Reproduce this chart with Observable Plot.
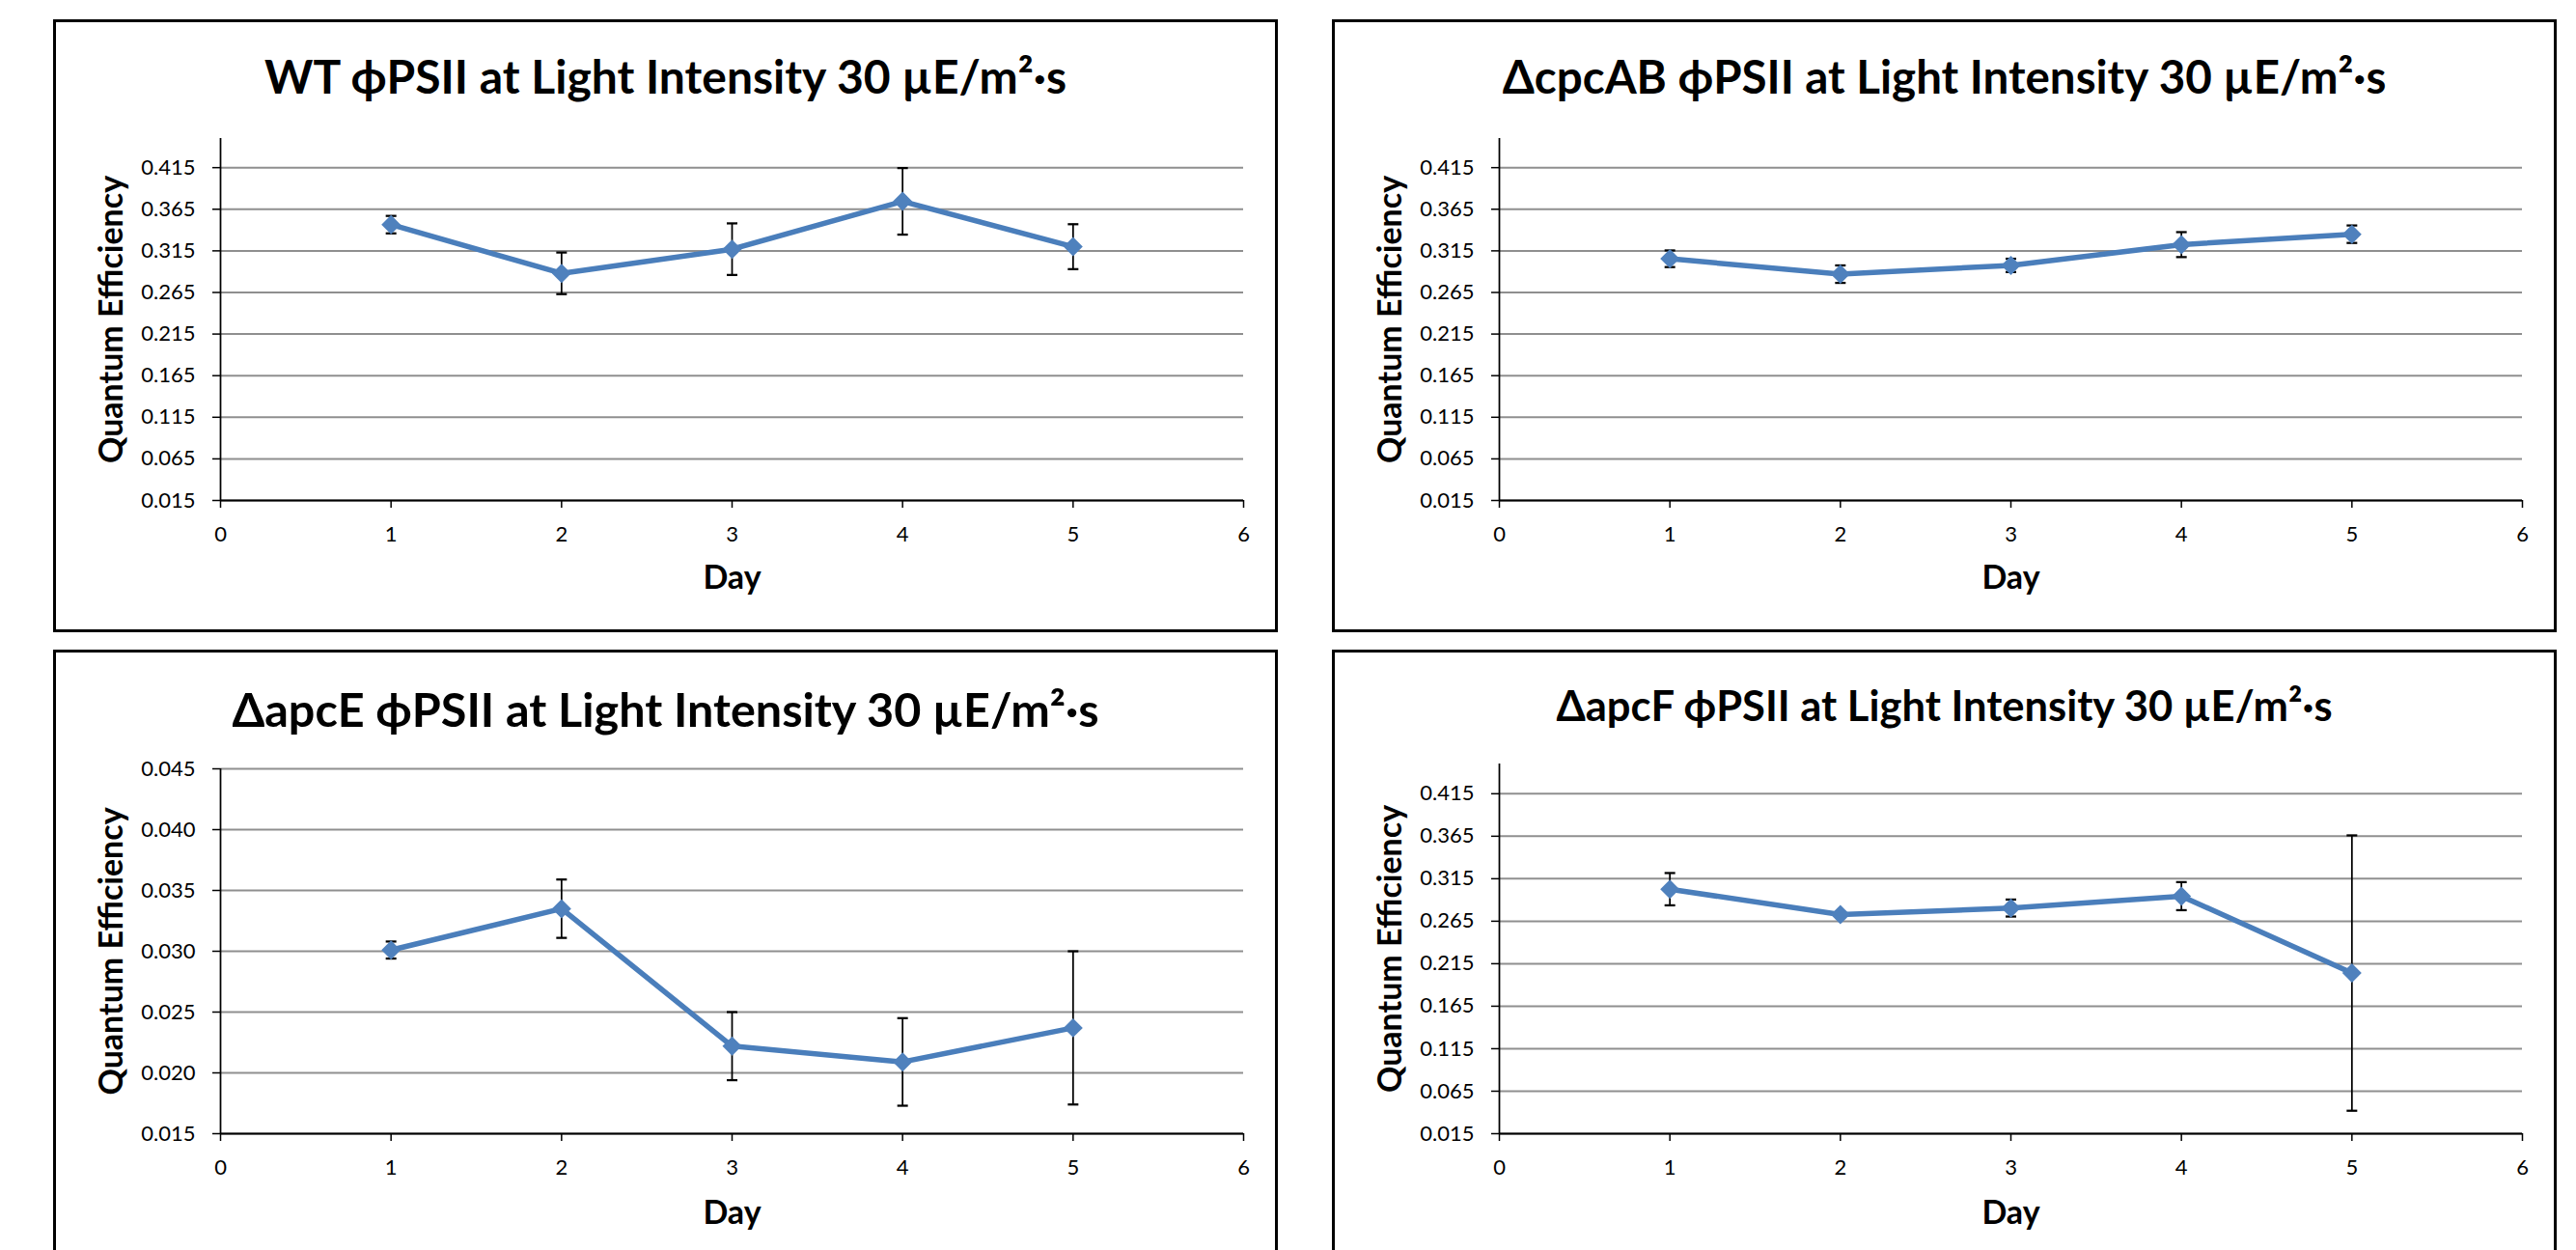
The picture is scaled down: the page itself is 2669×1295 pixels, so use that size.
<!DOCTYPE html>
<html>
<head>
<meta charset="utf-8">
<script src="https://cdn.jsdelivr.net/npm/d3@7"></script>
<script src="https://cdn.jsdelivr.net/npm/@observablehq/plot@0.6"></script>
<style>
  html, body { margin: 0; padding: 0; overflow: hidden; background: #fff; width: 2669px; height: 1295px; }
  .panel { position: absolute; width: 1269px; height: 635px; background: #fff; }
  .panel svg { position: absolute; left: 0; top: 0; }
  .frame { position: absolute; left: 0; top: 0; width: 1269px; height: 635px; box-sizing: border-box; border: 3px solid #000; pointer-events: none; }
  .title { position: absolute; left: 0; right: 0; text-align: center; font-family: Lato, "Noto Sans", sans-serif; font-weight: 700; line-height: 1; color: #000; white-space: nowrap; transform: translateY(-50%); }
</style>
</head>
<body>
<div id="root"></div>
<script>
// ---- data ----
const days = [1, 2, 3, 4, 5];
const xTicks = [0, 1, 2, 3, 4, 5, 6];
const yTicksMain = [0.015, 0.065, 0.115, 0.165, 0.215, 0.265, 0.315, 0.365, 0.415];
const yTicksApcE = [0.015, 0.020, 0.025, 0.030, 0.035, 0.040, 0.045];
const yDomainMain = [0.015, 0.45];
const yDomainApcE = [0.015, 0.045];

const xLabel = "Day";
const yLabel = "Quantum Efficiency";

const titleWT = "WT ϕPSII at Light Intensity 30 µE/m²·s";
const titleCpcAB = "ΔcpcAB ϕPSII at Light Intensity 30 µE/m²·s";
const titleApcE = "ΔapcE ϕPSII at Light Intensity 30 µE/m²·s";
const titleApcF = "ΔapcF ϕPSII at Light Intensity 30 µE/m²·s";

const wtMean = [0.3465, 0.288, 0.317, 0.3745, 0.320];
const wtErr = [0.0105, 0.025, 0.031, 0.040, 0.027];

const cpcABMean = [0.3055, 0.287, 0.2975, 0.3225, 0.335];
const cpcABErr = [0.010, 0.0105, 0.008, 0.015, 0.0105];

const apcEMean = [0.0301, 0.0335, 0.0222, 0.0209, 0.0237];
const apcEErr = [0.0007, 0.0024, 0.0028, 0.0036, 0.0063];

const apcFMean = [0.3027, 0.2728, 0.2805, 0.2945, 0.204];
const apcFErr = [0.019, 0.003, 0.010, 0.0165, 0.162];

// ---- layout / style ----
const W = 1269, H = 635;
const FONT = "Lato, 'Noto Sans', sans-serif";
const lineColor = "#4A7EBB";
const markerColor = "#4F81BD";

const capSymbol = {
  draw(context, size) {
    const r = Math.sqrt(size / Math.PI);
    context.moveTo(-r, 0);
    context.lineTo(r, 0);
  }
};

const panels = [
  {title: titleWT, titleSize: 48, titleY: 59, mean: wtMean, err: wtErr, domain: yDomainMain, ticks: yTicksMain, left: 55, top: 20, mt: 123, mb: H - 498, dayDy: 81},
  {title: titleCpcAB, titleSize: 47.5, titleY: 59, mean: cpcABMean, err: cpcABErr, domain: yDomainMain, ticks: yTicksMain, left: 1380, top: 20, mt: 123, mb: H - 498, dayDy: 81},
  {title: titleApcE, titleSize: 48.5, titleY: 61, mean: apcEMean, err: apcEErr, domain: yDomainApcE, ticks: yTicksApcE, left: 55, top: 673, mt: 123, mb: H - 501, dayDy: 83},
  {title: titleApcF, titleSize: 43.5, titleY: 58, mean: apcFMean, err: apcFErr, domain: yDomainMain, ticks: yTicksMain, left: 1380, top: 673, mt: 118, mb: H - 501, dayDy: 83}
];

const root = document.getElementById("root");

for (const p of panels) {
  const rows = days.map((d, i) => ({day: d, value: p.mean[i], lo: p.mean[i] - p.err[i], hi: p.mean[i] + p.err[i]}));
  const fmt = d3.format(".3f");

  const chart = Plot.plot({
    width: W,
    height: H,
    marginLeft: 173,
    marginRight: 36,
    marginTop: p.mt,
    marginBottom: p.mb,
    style: {background: "transparent", fontFamily: FONT, fontSize: "22px", color: "#000", overflow: "visible"},
    x: {domain: [0, 6]},
    y: {domain: p.domain},
    marks: [
      Plot.gridY(p.ticks, {stroke: "#8f8f8f", strokeOpacity: 1, strokeWidth: 2}),
      Plot.axisY(p.ticks, {tickFormat: fmt, tickSize: 8, tickPadding: 18, label: null, strokeWidth: 1.5, fontSize: 22}),
      Plot.axisX(xTicks, {tickFormat: d3.format("d"), tickSize: 8, tickPadding: 19, label: null, strokeWidth: 1.5, fontSize: 22}),
      Plot.ruleX([0], {stroke: "#000", strokeWidth: 1.75}),
      Plot.ruleY([p.domain[0]], {stroke: "#000", strokeWidth: 2}),
      Plot.ruleX(rows, {x: "day", y1: "lo", y2: "hi", stroke: "#000", strokeWidth: 1.75}),
      Plot.dot(rows, {x: "day", y: "lo", symbol: capSymbol, r: 5.5, stroke: "#000", strokeWidth: 2.25, fill: "none"}),
      Plot.dot(rows, {x: "day", y: "hi", symbol: capSymbol, r: 5.5, stroke: "#000", strokeWidth: 2.25, fill: "none"}),
      Plot.line(rows, {x: "day", y: "value", stroke: lineColor, strokeWidth: 5.5, strokeLinejoin: "round"}),
      Plot.dot(rows, {x: "day", y: "value", symbol: "diamond2", r: 9, fill: markerColor, stroke: "none"}),
      Plot.text([yLabel], {text: d => d, frameAnchor: "left", textAnchor: "middle", rotate: -90, dx: -112, lineAnchor: "middle", fontSize: 34, fontWeight: "bold", fill: "#000"}),
      Plot.text([xLabel], {text: d => d, frameAnchor: "bottom", textAnchor: "middle", dy: p.dayDy, lineAnchor: "middle", fontSize: 34, fontWeight: "bold", fill: "#000"})
    ]
  });

  const panel = document.createElement("div");
  panel.className = "panel";
  panel.style.left = p.left + "px";
  panel.style.top = p.top + "px";
  panel.appendChild(chart);

  const title = document.createElement("div");
  title.className = "title";
  title.style.top = p.titleY + "px";
  title.style.fontSize = p.titleSize + "px";
  title.textContent = p.title;
  panel.appendChild(title);

  const frame = document.createElement("div");
  frame.className = "frame";
  panel.appendChild(frame);

  root.appendChild(panel);
}
</script>
</body>
</html>
